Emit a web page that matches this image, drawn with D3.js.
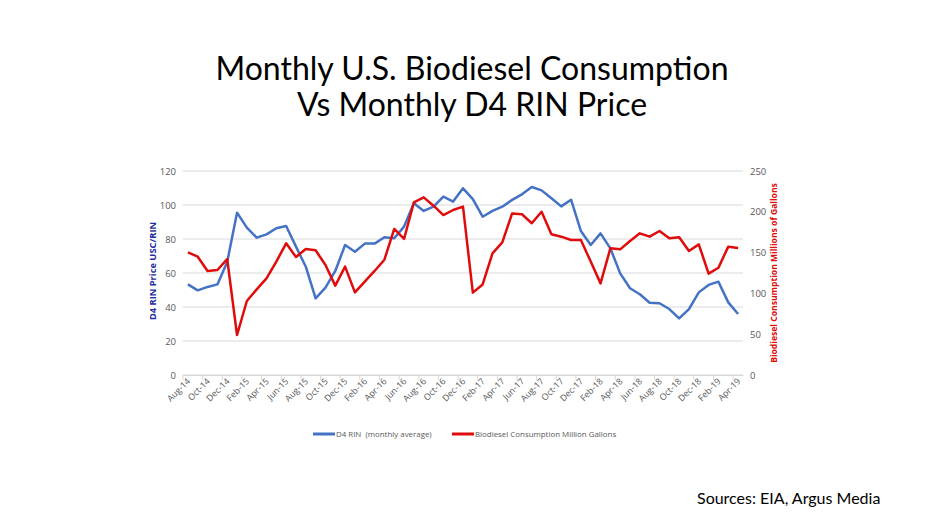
<!DOCTYPE html>
<html>
<head>
<meta charset="utf-8">
<script src="https://cdn.jsdelivr.net/npm/d3@7"></script>
<style>
  html, body { margin: 0; padding: 0; background: #ffffff; }
  svg { display: block; }
</style>
</head>
<body>
<svg id="chart" width="942" height="530"></svg>
<script>
// ---- DATA ----
const months = ["Aug-14","Sep-14","Oct-14","Nov-14","Dec-14","Jan-15","Feb-15","Mar-15","Apr-15","May-15","Jun-15","Jul-15",
  "Aug-15","Sep-15","Oct-15","Nov-15","Dec-15","Jan-16","Feb-16","Mar-16","Apr-16","May-16","Jun-16","Jul-16",
  "Aug-16","Sep-16","Oct-16","Nov-16","Dec-16","Jan-17","Feb-17","Mar-17","Apr-17","May-17","Jun-17","Jul-17",
  "Aug-17","Sep-17","Oct-17","Nov-17","Dec-17","Jan-18","Feb-18","Mar-18","Apr-18","May-18","Jun-18","Jul-18",
  "Aug-18","Sep-18","Oct-18","Nov-18","Dec-18","Jan-19","Feb-19","Mar-19","Apr-19"];
const rinPrice = [53.3, 49.8, 51.8, 53.3, 66.5, 95.5, 86.7, 80.8, 82.7, 86.3, 87.6, 75.5,
  63.7, 45.1, 51.4, 61.2, 76.5, 72.5, 77.3, 77.3, 81.0, 80.4, 87.3, 101.0,
  96.5, 99.0, 104.9, 102.0, 109.8, 103.5, 93.1, 96.5, 99.0, 103.0, 106.3, 110.6,
  108.6, 104.0, 99.2, 103.1, 84.7, 76.5, 83.3, 74.5, 59.8, 51.0, 47.5, 42.5,
  42.2, 38.8, 33.3, 38.8, 48.6, 53.0, 54.9, 42.7, 35.9];
const biodiesel = [150.3, 145.0, 127.5, 128.7, 142.0, 49.0, 90.7, 105.0, 118.5, 139.0, 161.4, 144.6,
  154.4, 152.8, 134.8, 109.5, 132.8, 101.3, 114.4, 127.5, 141.3, 179.0, 166.7, 211.6,
  217.7, 207.5, 196.0, 202.2, 206.3, 100.9, 111.0, 149.0, 162.6, 198.0, 197.0, 186.0,
  200.0, 172.4, 169.5, 165.4, 165.4, 139.0, 112.3, 155.2, 154.0, 164.2, 173.6, 169.5,
  176.5, 167.5, 168.7, 152.0, 160.1, 124.2, 131.5, 157.3, 155.6];
const leftTicks = [0, 20, 40, 60, 80, 100, 120];
const rightTicks = [0, 50, 100, 150, 200, 250];
const titleLines = ["Monthly U.S. Biodiesel Consumption", "Vs Monthly D4 RIN Price"];
const seriesNames = ["D4 RIN  (monthly average)", "Biodiesel Consumption Million Gallons"];
const leftTitle = "D4 RIN Price USC/RIN";
const rightTitle = "Biodiesel Consumption Millions of Gallons";
const sourceText = "Sources: EIA, Argus Media";

// ---- LAYOUT ----
const svg = d3.select("#chart");
const plot = { left: 183, right: 743, top: 171, bottom: 375 };
const blue = "#4472C4", red = "#E00B0B", grid = "#D9D9D9", tickCol = "#595959";
const font = "Calibri, Carlito, 'Open Sans', 'Liberation Sans', sans-serif";

const x = d3.scaleBand().domain(months).range([plot.left, plot.right]).padding(0);
const cx = m => x(m) + x.bandwidth() / 2;
const yL = d3.scaleLinear().domain([0, 120]).range([plot.bottom, plot.top]);
const yR = d3.scaleLinear().domain([0, 250]).range([plot.bottom, plot.top]);

// Title
svg.append("g").selectAll("text").data(titleLines).join("text")
  .attr("x", 472).attr("y", (d, i) => 80 + i * 36)
  .attr("text-anchor", "middle")
  .attr("font-family", "Lato, " + font).attr("font-size", 32)
  .attr("fill", "#000").text(d => d);

// Gridlines
svg.append("g").selectAll("line").data(leftTicks).join("line")
  .attr("x1", plot.left).attr("x2", plot.right)
  .attr("y1", d => yL(d)).attr("y2", d => yL(d))
  .attr("stroke", grid).attr("stroke-width", 1);

// Left axis
const axL = svg.append("g").attr("transform", `translate(${plot.left - 7},0)`)
  .call(d3.axisLeft(yL).tickValues(leftTicks).tickSize(0).tickPadding(0));
axL.select(".domain").remove();
axL.selectAll("text").attr("fill", tickCol).attr("font-size", 9.5).attr("font-family", "'Open Sans', sans-serif");

// Right axis
const axR = svg.append("g").attr("transform", `translate(${plot.right + 7},0)`)
  .call(d3.axisRight(yR).tickValues(rightTicks).tickSize(0).tickPadding(0));
axR.select(".domain").remove();
axR.selectAll("text").attr("fill", tickCol).attr("font-size", 9.5).attr("font-family", "'Open Sans', sans-serif");

// Bottom axis line and ticks
const tickMonths = months.filter((d, i) => i % 2 === 0);
const axB = svg.append("g").attr("transform", `translate(0,${plot.bottom})`)
  .call(d3.axisBottom(x).tickValues(tickMonths).tickSize(0).tickPadding(0));
axB.select(".domain").attr("stroke", grid).attr("stroke-width", 1);
axB.selectAll(".tick line").remove();
axB.selectAll(".tick").each(function(d) {
  const g = d3.select(this);
  const off = -x.bandwidth() / 2;
  g.append("line").attr("x1", off).attr("x2", off).attr("y1", 0).attr("y2", 5)
    .attr("stroke", grid);
});
axB.selectAll("text")
  .attr("fill", tickCol).attr("font-size", 8.8).attr("font-family", "'Open Sans', sans-serif")
  .attr("text-anchor", "end").attr("dy", null).attr("y", 0)
  .attr("transform", "translate(3,7) rotate(-45)");

// Axis titles
svg.append("text")
  .attr("transform", `translate(156,${(plot.top + plot.bottom) / 2 - 2}) rotate(-90)`)
  .attr("text-anchor", "middle").attr("font-size", 9.3).attr("font-weight", "bold")
  .attr("font-family", "'Open Sans', sans-serif").attr("fill", "#1F2DA0").text(leftTitle);
svg.append("text")
  .attr("transform", `translate(777,${(plot.top + plot.bottom) / 2}) rotate(-90)`)
  .attr("text-anchor", "middle").attr("font-size", 8.6).attr("font-weight", "bold")
  .attr("font-family", "'Open Sans', sans-serif").attr("fill", red).text(rightTitle);

// Lines
const lineL = d3.line().x((d, i) => cx(months[i])).y(d => yL(d));
const lineR = d3.line().x((d, i) => cx(months[i])).y(d => yR(d));
svg.append("path").datum(rinPrice).attr("d", lineL)
  .attr("fill", "none").attr("stroke", blue).attr("stroke-width", 2.5).attr("stroke-linejoin", "round");
svg.append("path").datum(biodiesel).attr("d", lineR)
  .attr("fill", "none").attr("stroke", red).attr("stroke-width", 2.5).attr("stroke-linejoin", "round");

// Legend
const legend = [
  { name: seriesNames[0], color: blue, x: 313 },
  { name: seriesNames[1], color: red, x: 452 }
];
const lg = svg.append("g").selectAll("g").data(legend).join("g")
  .attr("transform", d => `translate(${d.x},434)`);
lg.append("line").attr("x1", 0).attr("x2", 22).attr("y1", 0).attr("y2", 0)
  .attr("stroke", d => d.color).attr("stroke-width", 3);
lg.append("text").attr("x", 23).attr("y", 3).attr("font-size", 7.9)
  .attr("font-family", "'Open Sans', sans-serif").attr("fill", tickCol)
  .style("white-space", "pre").text(d => d.name);

// Source
svg.append("text").attr("x", 697).attr("y", 504)
  .attr("font-family", "Lato, " + font).attr("font-size", 16).attr("fill", "#000").text(sourceText);
</script>
</body>
</html>
